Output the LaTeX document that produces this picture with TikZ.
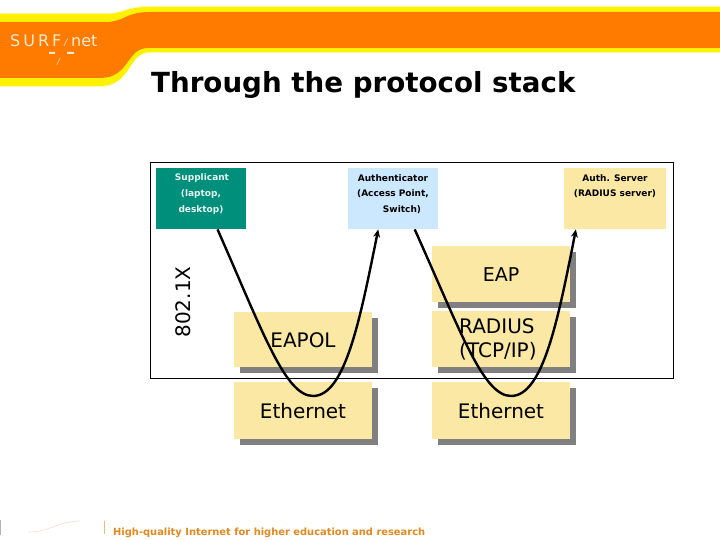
\documentclass[tikz,border=0pt]{standalone}
\usepackage{fontspec}
\setmainfont{DejaVu Sans}
\usetikzlibrary{arrows.meta}
\definecolor{bannerorange}{HTML}{FF7B00}
\definecolor{banneryellow}{HTML}{FFF200}
\definecolor{paleyellow}{HTML}{FAE8A4}
\definecolor{teal}{HTML}{008F7A}
\definecolor{palebluebox}{HTML}{CCE8FF}
\definecolor{shadowgray}{HTML}{808080}
\definecolor{footerorange}{HTML}{E08A20}
\definecolor{logotext}{HTML}{FFE9C8}
\tikzset{
  x=1pt,y=-1pt,
  stack/.style={fill=paleyellow,draw=none,minimum width=138pt,inner sep=0pt,anchor=north west},
  stacktext/.style={font=\fontsize{20}{24}\selectfont,inner sep=0pt,text=black},
  rolebox/.style={draw=none,inner sep=0pt,minimum height=61pt,anchor=north west},
  roletext/.style={font=\fontsize{9}{10}\selectfont\bfseries,inner sep=0pt},
  logofont/.style={text=logotext,font=\fontsize{16}{16}\selectfont,inner sep=0pt,anchor=base west},
  hop/.style={draw=black,line width=2.4pt,-{Stealth[length=8pt,width=7pt]}},
}
\begin{document}
\begin{tikzpicture}
\useasboundingbox (0,0) rectangle (720,540);
\fill[white] (0,0) rectangle (720,540);
% banner
\fill[banneryellow!35] (0,13) -- (105,13) .. controls (125,13) and (125,6) .. (150,6) -- (720,6) -- (720,53) -- (150,53) .. controls (125,53) and (130,87) .. (100,87) -- (0,87) -- cycle;
\fill[banneryellow] (0,14) -- (105,14) .. controls (125,14) and (125,7) .. (150,7) -- (720,7) -- (720,52) -- (150,52) .. controls (128,52) and (132,86) .. (100,86) -- (0,86) -- cycle;
\fill[bannerorange] (0,22) -- (105,22) .. controls (125,22) and (125,12) .. (150,12) -- (720,12) -- (720,48) -- (148,48) .. controls (126,48) and (130,78) .. (100,78) -- (0,78) -- cycle;
\node[logofont] (logoa) at (10,47) {S\hspace{3pt}U\hspace{3pt}R\hspace{3pt}F};
\node[logofont] (logob) at (71,47) {net};
\node[text=logotext,font=\fontsize{9}{9}\selectfont\itshape,inner sep=0pt] (logoc) at (66,43) {/};
\node[text=logotext,font=\fontsize{8}{8}\selectfont\itshape,inner sep=0pt] (logod) at (58.5,62) {/};
\fill[logotext] (49,52) rectangle (55,54) (67,52) rectangle (74,54);
% title
\node[font=\fontsize{27.7}{30}\selectfont\bfseries,inner sep=0pt,anchor=base west] (title) at (151,93) {Through the protocol stack};
% frame
\node[draw=black,line width=0.8pt,inner sep=0pt,minimum width=523pt,minimum height=216pt,anchor=north west] (frame) at (150,162) {};
% roles
\node[rolebox,fill=teal,minimum width=90pt] (sup) at (156,168) {};
\node[rolebox,fill=palebluebox,minimum width=90pt] (auth) at (348,168) {};
\node[rolebox,fill=paleyellow,minimum width=102pt] (srv) at (564,168) {};
\node[roletext,text=white!90!teal] (s1) at (202,178) {Supplicant};
\node[roletext,text=white!90!teal] (s2) at (201,194) {(laptop,};
\node[roletext,text=white!90!teal] (s3) at (201,210) {desktop)};
\node[roletext] (a1) at (393,178) {Authenticator};
\node[roletext] (a2) at (393,194) {(Access Point,};
\node[roletext] (a3) at (402,210) {Switch)};
\node[roletext] (v1) at (615,178) {Auth. Server};
\node[roletext] (v2) at (615,194) {(RADIUS server)};
% 802.1X
\node[rotate=90,font=\fontsize{20}{22}\selectfont,inner sep=0pt] (dot) at (183,302) {802.1X};
% shadows
\fill[shadowgray] (438,252) rectangle (576,308);
\fill[shadowgray] (240,318) rectangle (378,373);
\fill[shadowgray] (438,317) rectangle (576,373);
\fill[shadowgray] (240,388) rectangle (378,445);
\fill[shadowgray] (438,388) rectangle (576,445);
% stack
\node[stack,minimum height=56pt] (eap) at (432,246) {};
\node[stack,minimum height=55pt] (eapol) at (234,312) {};
\node[stack,minimum height=56pt] (radius) at (432,311) {};
\node[stack,minimum height=57pt] (eth1) at (234,382) {};
\node[stack,minimum height=57pt] (eth2) at (432,382) {};
\node[stacktext,font=\fontsize{19}{22}\selectfont] (teap) at (501,275) {EAP};
\node[stacktext] (teapol) at (303,340) {EAPOL};
\node[stacktext,align=left,anchor=west] (trad) at (459,339) {RADIUS\\(TCP/IP)};
\node[stacktext] (teth1) at (303,411) {Ethernet};
\node[stacktext] (teth2) at (501,411) {Ethernet};
% hops
\coordinate (low1) at (313,396);
\coordinate (low2) at (511,396);
\draw[hop] (sup.-62) .. controls (262,330) and (285,396) .. (low1) .. controls (345,396) and (360,320) .. (auth.-116);
\draw[hop] (auth.-55) .. controls (460,330) and (483,396) .. (low2) .. controls (543,396) and (558,320) .. (srv.-142);
% footer
\fill[footerorange!60] (103.5,521) rectangle (105,534);
\fill[gray!60] (0,520) rectangle (1,535);
\draw[paleyellow!70!gray!50,line width=0.6pt] (28,532) .. controls (50,532) and (55,522) .. (80,521);
\node[text=footerorange,font=\fontsize{9.9}{12}\selectfont\bfseries,inner sep=0pt,anchor=base west] (foot) at (113,535) {High-quality Internet for higher education and research};
\end{tikzpicture}
\end{document}
